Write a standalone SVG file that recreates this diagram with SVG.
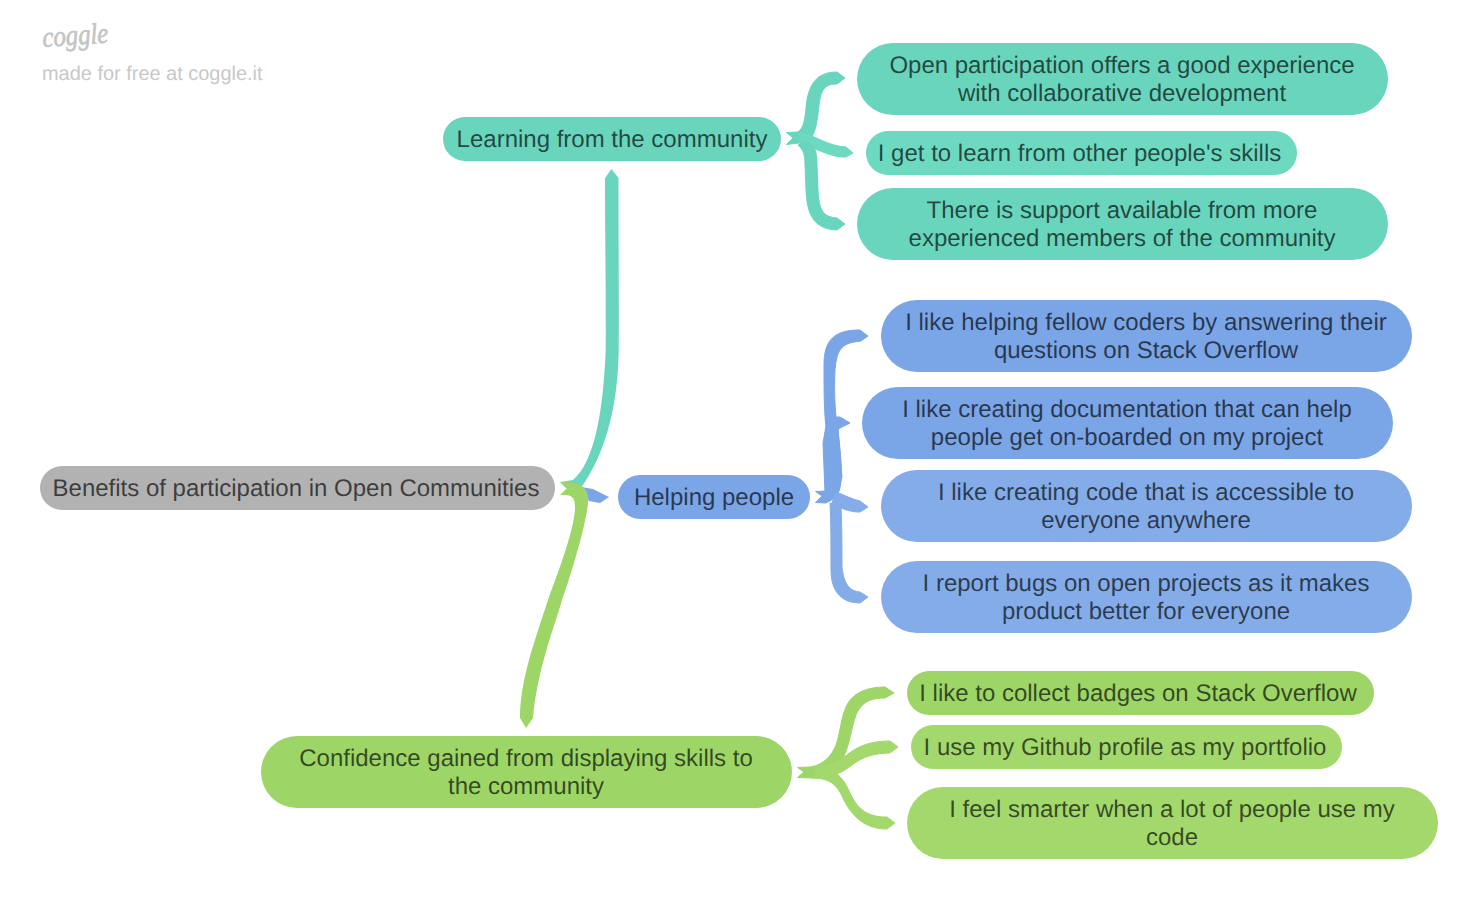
<svg xmlns="http://www.w3.org/2000/svg" width="1480" height="906" viewBox="0 0 1480 906">
<style>
text{font-family:"Liberation Sans",Arial,sans-serif;font-size:24px;text-anchor:middle;fill:#000;fill-opacity:.68;text-rendering:geometricPrecision}
.g{fill:#b2b2b2}.t{fill:#69d5bd}.t2{fill:#6dd9c0}.b{fill:#7aa5e6}.b2{fill:#83ace8}.n{fill:#9dd667}.n2{fill:#a3d96c}
#connectors path{stroke-width:1;stroke-linejoin:round}
#connectors .t{stroke:#69d5bd}#connectors .t2{stroke:#6dd9c0}#connectors .b{stroke:#7aa5e6}#connectors .b2{stroke:#83ace8}#connectors .n{stroke:#9dd667}#connectors .n2{stroke:#a3d96c}
#connectors .m{stroke:none}
.wm{font-family:"Liberation Serif",serif;font-style:italic;font-size:29px;text-anchor:start;fill:#c4c4c4;fill-opacity:1;stroke:#c4c4c4;stroke-width:.7}
.made{font-size:19.950px;text-anchor:start;fill:#c8c8c8;fill-opacity:1}
</style>
<rect width="1480" height="906" fill="#fff"/>
<g id="connectors">
<path class="b m" d="M581,487L593,489L609,497L600,503L589,501Z"/>
<path class="t m" d="M605,178L611.500,169L618.500,178C618.500,240 619,300 618.700,350C618,390 612,440 585,482L579,490L566,488L560,482L573,480C594,462 603,415 605.700,350C606,290 605,230 605,178Z"/>
<path class="n m" d="M560,482C578,481 590,486 588,503C586,525 571,575 562,600C556,622 537,670 533,718L526,728L520,718C520,680 535,640 548,600C555,580 575,530 575,507C575,498 572,495 565,495L560,495L567,488Z"/>
<path class="t" d="M786.500,132.500L798,132C804,128 805,118 806,108C808,85 816,72 837,72L845,78L837,84C826,84 821,88 819,105C817,122 816,134 808,142L786.500,144.500L793,138Z"/>
<path class="t2" d="M800,132C816,136 828,146 846,147L853,153L846,157L842,157C826,156 815,146 800,146Z"/>
<path class="t" d="M798,145C804,150 805,156 805,165L806,190C807,215 814,229 837,230L845,224L837,218C823,217 819,210 818,190L817,165C817,152 815,146 808,142Z"/>
<path class="b" d="M815.500,491.500L826,491C826,470 827,450 826,427C824,410 824,390 824,365C824,340 834,330 860,330L868,336L861,341C843,343 837,347 835,370C834,390 835,405 836,417L840,417L850,423L840,428L838,430C840,450 842,465 841,480C840,495 836,498 826,503L815.500,502.500L822,496Z"/>
<path class="b" d="M826,426L838,430L842,477L837,494L825,492L823,443Z"/>
<path class="b2" d="M836,492C845,495 851,499 860,501L868,507L860,512L857,512C846,511 838,507 832,503Z"/>
<path class="b2" d="M830,503C831,520 831,545 831,570C831,592 842,603 860,603L868,597L860,592C850,591 844,585 842,567C842,550 842,530 841,506Z"/>
<path class="n" d="M797.500,767.500L810,767C824,765 832,755 836,745C841,730 841,715 848,703C855,692 868,687 885,687L894,693L885,698C872,698 862,701 856,715C851,728 850,745 843,758C838,768 826,778 812,778L797.500,777.500L804,772Z"/>
<path class="n2" d="M815,767C832,765 838,762 848,754C860,745 872,741 890,741L898,747L890,753C875,753 862,757 852,765C842,773 830,778 815,778Z"/>
<path class="n2" d="M812,778C826,778 835,782 841,794C848,810 860,829 887,829L895,823L887,817C868,817 858,810 850,793C845,782 842,778 836,773Z"/>
</g>
<g id="root"><rect class="g" x="40" y="466" width="515" height="44" rx="22"/><text x="296" y="496">Benefits of participation in Open Communities</text></g>
<g id="n-learning"><rect class="t" x="443" y="117" width="338" height="44" rx="22"/><text x="612" y="147">Learning from the community</text></g>
<g id="n-open"><rect class="t" x="857" y="43" width="531" height="72" rx="36"/><text x="1122" y="73">Open participation offers a good experience</text><text x="1122" y="101">with collaborative development</text></g>
<g id="n-learn"><rect class="t2" x="866" y="131" width="431" height="44" rx="22"/><text x="1079.500" y="161">I get to learn from other people's skills</text></g>
<g id="n-support"><rect class="t" x="857" y="188" width="531" height="72" rx="36"/><text x="1122" y="218">There is support available from more</text><text x="1122" y="246">experienced members of the community</text></g>
<g id="n-helping"><rect class="b" x="618" y="475" width="192" height="44" rx="22"/><text x="714" y="505">Helping people</text></g>
<g id="n-answer"><rect class="b" x="881" y="300" width="531" height="72" rx="36"/><text x="1146" y="330">I like helping fellow coders by answering their</text><text x="1146" y="358">questions on Stack Overflow</text></g>
<g id="n-docs"><rect class="b" x="862" y="387" width="531" height="72" rx="36"/><text x="1127" y="417">I like creating documentation that can help</text><text x="1127" y="445">people get on-boarded on my project</text></g>
<g id="n-code"><rect class="b2" x="881" y="470" width="531" height="72" rx="36"/><text x="1146" y="500">I like creating code that is accessible to</text><text x="1146" y="528">everyone anywhere</text></g>
<g id="n-bugs"><rect class="b2" x="881" y="561" width="531" height="72" rx="36"/><text x="1146" y="591">I report bugs on open projects as it makes</text><text x="1146" y="619">product better for everyone</text></g>
<g id="n-confidence"><rect class="n" x="261" y="736" width="531" height="72" rx="36"/><text x="526" y="766">Confidence gained from displaying skills to</text><text x="526" y="794">the community</text></g>
<g id="n-badges"><rect class="n" x="907" y="671" width="467" height="44" rx="22"/><text x="1138" y="701">I like to collect badges on Stack Overflow</text></g>
<g id="n-github"><rect class="n2" x="911" y="725" width="431" height="44" rx="22"/><text x="1125" y="755">I use my Github profile as my portfolio</text></g>
<g id="n-smarter"><rect class="n2" x="907" y="787" width="531" height="72" rx="36"/><text x="1172" y="817">I feel smarter when a lot of people use my</text><text x="1172" y="845">code</text></g>
<g id="watermark"><text class="wm" x="43" y="47" textLength="66" lengthAdjust="spacingAndGlyphs" transform="rotate(-4 43 47)">coggle</text><text class="made" x="42" y="80">made for free at coggle.it</text></g>
</svg>
